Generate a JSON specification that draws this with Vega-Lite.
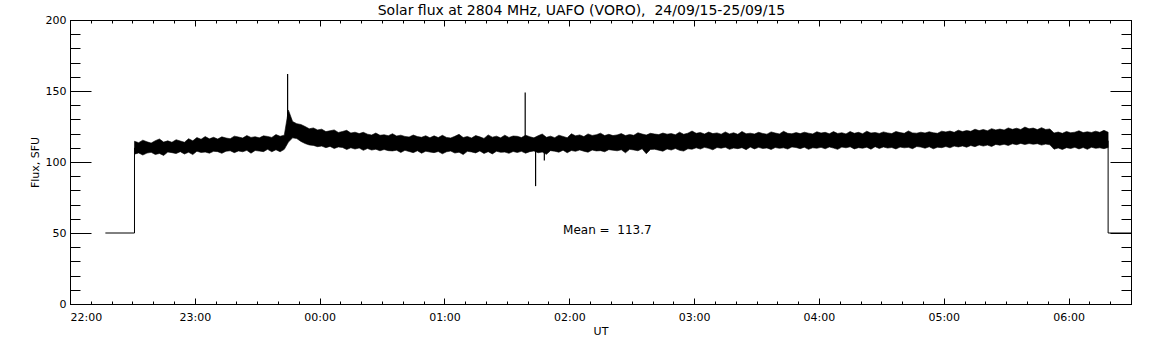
{
  "$schema": "https://vega.github.io/schema/vega-lite/v6.json",
  "autosize": "none",
  "width": 1061,
  "height": 284,
  "padding": {"left": 70, "top": 20, "right": 21, "bottom": 41},
  "background": "white",
  "title": {"text": "Solar flux at 2804 MHz, UAFO (VORO), \u00a024/09/15-25/09/15", "font": "DejaVu Sans", "fontSize": 14, "fontWeight": "normal", "color": "black", "anchor": "middle", "frame": "group", "dx": -19, "offset": -4},
  "config": {
    "view": {"stroke": "black", "strokeWidth": 1},
    "axis": {"labelFont": "DejaVu Sans", "labelFontSize": 11, "labelColor": "black", "titleFont": "DejaVu Sans", "titleFontSize": 11, "titleFontWeight": "normal", "titleColor": "black", "domainColor": "black", "tickColor": "black", "grid": false}
  },
  "datasets": {
    "band": [
      {"t":"2015-09-24T22:31","v":105.5,"v2":114.6},{"t":"2015-09-24T22:33","v":106.4,"v2":113.6},{"t":"2015-09-24T22:35","v":104.9,"v2":115.4},{"t":"2015-09-24T22:37","v":106.3,"v2":114.2},{"t":"2015-09-24T22:39","v":106.8,"v2":113.3},{"t":"2015-09-24T22:41","v":105.3,"v2":115.0},{"t":"2015-09-24T22:43","v":106.0,"v2":116.2},{"t":"2015-09-24T22:45","v":104.6,"v2":114.0},{"t":"2015-09-24T22:47","v":107.0,"v2":114.9},{"t":"2015-09-24T22:49","v":106.6,"v2":113.9},{"t":"2015-09-24T22:51","v":105.9,"v2":115.7},{"t":"2015-09-24T22:53","v":107.3,"v2":114.8},{"t":"2015-09-24T22:55","v":105.6,"v2":113.9},{"t":"2015-09-24T22:57","v":106.9,"v2":116.4},{"t":"2015-09-24T22:59","v":105.2,"v2":114.9},
      {"t":"2015-09-24T23:01","v":107.6,"v2":117.2},{"t":"2015-09-24T23:03","v":106.7,"v2":116.0},{"t":"2015-09-24T23:05","v":107.0,"v2":117.9},{"t":"2015-09-24T23:07","v":106.2,"v2":116.3},{"t":"2015-09-24T23:09","v":107.5,"v2":117.4},{"t":"2015-09-24T23:11","v":107.3,"v2":116.2},{"t":"2015-09-24T23:13","v":106.1,"v2":117.7},{"t":"2015-09-24T23:15","v":107.6,"v2":116.9},{"t":"2015-09-24T23:17","v":107.9,"v2":116.4},{"t":"2015-09-24T23:19","v":106.6,"v2":118.2},{"t":"2015-09-24T23:21","v":107.8,"v2":117.6},{"t":"2015-09-24T23:23","v":107.2,"v2":116.9},{"t":"2015-09-24T23:25","v":108.2,"v2":118.6},{"t":"2015-09-24T23:27","v":106.2,"v2":117.3},{"t":"2015-09-24T23:29","v":108.1,"v2":117.8},{"t":"2015-09-24T23:31","v":107.7,"v2":117.0},{"t":"2015-09-24T23:33","v":107.3,"v2":118.4},{"t":"2015-09-24T23:35","v":108.9,"v2":118.0},{"t":"2015-09-24T23:37","v":107.2,"v2":117.3},{"t":"2015-09-24T23:39","v":108.6,"v2":119.3},{"t":"2015-09-24T23:41","v":107.2,"v2":118.1},{"t":"2015-09-24T23:43","v":108.9,"v2":118.9},
      {"t":"2015-09-24T23:45","v":114.0,"v2":136.5},{"t":"2015-09-24T23:47","v":117.0,"v2":128.5},{"t":"2015-09-24T23:49","v":116.5,"v2":127.0},{"t":"2015-09-24T23:51","v":114.5,"v2":126.4},{"t":"2015-09-24T23:53","v":113.0,"v2":125.0},{"t":"2015-09-24T23:55","v":112.0,"v2":123.4},{"t":"2015-09-24T23:57","v":111.7,"v2":124.0},{"t":"2015-09-24T23:59","v":110.8,"v2":122.6},
      {"t":"2015-09-25T00:01","v":111.2,"v2":123.1},{"t":"2015-09-25T00:03","v":110.1,"v2":121.4},{"t":"2015-09-25T00:05","v":111.0,"v2":122.0},{"t":"2015-09-25T00:07","v":109.5,"v2":122.6},{"t":"2015-09-25T00:09","v":110.6,"v2":120.8},{"t":"2015-09-25T00:11","v":110.2,"v2":121.5},{"t":"2015-09-25T00:13","v":108.8,"v2":122.3},{"t":"2015-09-25T00:15","v":110.0,"v2":120.4},{"t":"2015-09-25T00:17","v":109.1,"v2":121.0},{"t":"2015-09-25T00:19","v":109.9,"v2":120.0},{"t":"2015-09-25T00:21","v":108.2,"v2":120.9},{"t":"2015-09-25T00:23","v":109.5,"v2":119.6},{"t":"2015-09-25T00:25","v":108.4,"v2":119.0},{"t":"2015-09-25T00:27","v":109.0,"v2":120.4},{"t":"2015-09-25T00:29","v":107.9,"v2":118.8},{"t":"2015-09-25T00:31","v":108.8,"v2":119.2},{"t":"2015-09-25T00:33","v":108.0,"v2":118.5},{"t":"2015-09-25T00:35","v":107.8,"v2":119.9},{"t":"2015-09-25T00:37","v":108.3,"v2":118.3},{"t":"2015-09-25T00:39","v":106.7,"v2":118.9},{"t":"2015-09-25T00:41","v":108.2,"v2":118.0},{"t":"2015-09-25T00:43","v":107.4,"v2":117.6},{"t":"2015-09-25T00:45","v":106.6,"v2":119.0},{"t":"2015-09-25T00:47","v":107.9,"v2":117.9},{"t":"2015-09-25T00:49","v":106.2,"v2":117.4},{"t":"2015-09-25T00:51","v":107.6,"v2":118.5},{"t":"2015-09-25T00:53","v":107.0,"v2":117.1},
      {"t":"2015-09-25T00:55","v":106.6,"v2":118.4},{"t":"2015-09-25T00:57","v":107.4,"v2":117.2},{"t":"2015-09-25T00:59","v":105.8,"v2":118.8},{"t":"2015-09-25T01:01","v":107.2,"v2":117.3},{"t":"2015-09-25T01:03","v":107.7,"v2":116.9},{"t":"2015-09-25T01:05","v":106.3,"v2":118.1},{"t":"2015-09-25T01:07","v":106.9,"v2":119.5},{"t":"2015-09-25T01:09","v":105.2,"v2":117.2},{"t":"2015-09-25T01:11","v":107.5,"v2":118.0},{"t":"2015-09-25T01:13","v":107.1,"v2":116.9},{"t":"2015-09-25T01:15","v":106.4,"v2":118.6},{"t":"2015-09-25T01:17","v":107.8,"v2":117.7},{"t":"2015-09-25T01:19","v":106.0,"v2":116.6},{"t":"2015-09-25T01:21","v":107.3,"v2":119.1},{"t":"2015-09-25T01:23","v":105.7,"v2":117.5},{"t":"2015-09-25T01:25","v":107.6,"v2":118.2},{"t":"2015-09-25T01:27","v":106.8,"v2":117.0},{"t":"2015-09-25T01:29","v":107.0,"v2":118.9},{"t":"2015-09-25T01:31","v":106.1,"v2":117.3},{"t":"2015-09-25T01:33","v":107.4,"v2":118.3},{"t":"2015-09-25T01:35","v":106.7,"v2":118.1},{"t":"2015-09-25T01:37","v":107.5,"v2":117.2},{"t":"2015-09-25T01:39","v":106.2,"v2":118.9},{"t":"2015-09-25T01:41","v":107.3,"v2":117.8},{"t":"2015-09-25T01:43","v":107.8,"v2":117.0},{"t":"2015-09-25T01:45","v":106.5,"v2":118.5},{"t":"2015-09-25T01:47","v":107.0,"v2":119.7},{"t":"2015-09-25T01:49","v":105.4,"v2":117.4},{"t":"2015-09-25T01:51","v":108.0,"v2":118.2},{"t":"2015-09-25T01:53","v":107.6,"v2":117.1},{"t":"2015-09-25T01:55","v":106.9,"v2":118.9},{"t":"2015-09-25T01:57","v":108.3,"v2":118.0},{"t":"2015-09-25T01:59","v":106.5,"v2":117.1},
      {"t":"2015-09-25T02:01","v":108.1,"v2":119.9},{"t":"2015-09-25T02:03","v":107.5,"v2":118.4},{"t":"2015-09-25T02:05","v":108.5,"v2":119.1},{"t":"2015-09-25T02:07","v":107.6,"v2":117.9},{"t":"2015-09-25T02:09","v":106.9,"v2":119.8},{"t":"2015-09-25T02:11","v":108.4,"v2":118.7},{"t":"2015-09-25T02:13","v":107.8,"v2":119.2},{"t":"2015-09-25T02:15","v":108.0,"v2":120.3},{"t":"2015-09-25T02:17","v":107.2,"v2":118.6},{"t":"2015-09-25T02:19","v":108.7,"v2":119.5},{"t":"2015-09-25T02:21","v":108.3,"v2":118.6},{"t":"2015-09-25T02:23","v":107.9,"v2":119.1},{"t":"2015-09-25T02:25","v":108.6,"v2":120.0},{"t":"2015-09-25T02:27","v":106.5,"v2":118.6},{"t":"2015-09-25T02:29","v":108.9,"v2":119.4},{"t":"2015-09-25T02:31","v":108.5,"v2":118.8},{"t":"2015-09-25T02:33","v":107.9,"v2":120.6},{"t":"2015-09-25T02:35","v":109.3,"v2":119.7},{"t":"2015-09-25T02:37","v":105.8,"v2":119.0},{"t":"2015-09-25T02:39","v":108.8,"v2":120.2},{"t":"2015-09-25T02:41","v":109.0,"v2":119.7},{"t":"2015-09-25T02:43","v":108.3,"v2":119.3},{"t":"2015-09-25T02:45","v":107.6,"v2":120.4},{"t":"2015-09-25T02:47","v":109.2,"v2":119.6},{"t":"2015-09-25T02:49","v":108.4,"v2":120.0},{"t":"2015-09-25T02:51","v":109.5,"v2":119.2},{"t":"2015-09-25T02:53","v":108.2,"v2":121.0},{"t":"2015-09-25T02:55","v":107.7,"v2":119.5},{"t":"2015-09-25T02:57","v":109.3,"v2":120.3},{"t":"2015-09-25T02:59","v":109.0,"v2":121.8},
      {"t":"2015-09-25T03:01","v":110.0,"v2":120.2},{"t":"2015-09-25T03:03","v":109.1,"v2":120.8},{"t":"2015-09-25T03:05","v":110.3,"v2":119.7},{"t":"2015-09-25T03:07","v":109.6,"v2":121.1},{"t":"2015-09-25T03:09","v":108.6,"v2":120.0},{"t":"2015-09-25T03:11","v":110.2,"v2":120.5},{"t":"2015-09-25T03:13","v":109.7,"v2":119.6},{"t":"2015-09-25T03:15","v":110.4,"v2":121.2},{"t":"2015-09-25T03:17","v":108.9,"v2":119.8},{"t":"2015-09-25T03:19","v":109.8,"v2":120.6},{"t":"2015-09-25T03:21","v":109.4,"v2":119.5},{"t":"2015-09-25T03:23","v":110.1,"v2":121.5},{"t":"2015-09-25T03:25","v":108.7,"v2":119.9},{"t":"2015-09-25T03:27","v":110.5,"v2":120.3},{"t":"2015-09-25T03:29","v":109.2,"v2":119.7},{"t":"2015-09-25T03:31","v":110.3,"v2":120.9},{"t":"2015-09-25T03:33","v":109.5,"v2":120.1},{"t":"2015-09-25T03:35","v":109.9,"v2":119.6},{"t":"2015-09-25T03:37","v":108.8,"v2":121.2},{"t":"2015-09-25T03:39","v":110.2,"v2":120.4},{"t":"2015-09-25T03:41","v":109.6,"v2":119.8},{"t":"2015-09-25T03:43","v":110.0,"v2":121.6},{"t":"2015-09-25T03:45","v":109.1,"v2":120.2},{"t":"2015-09-25T03:47","v":110.6,"v2":119.9},{"t":"2015-09-25T03:49","v":110.2,"v2":120.7},{"t":"2015-09-25T03:51","v":109.4,"v2":120.0},{"t":"2015-09-25T03:53","v":110.4,"v2":121.0},{"t":"2015-09-25T03:55","v":108.9,"v2":120.3},{"t":"2015-09-25T03:57","v":110.0,"v2":119.8},{"t":"2015-09-25T03:59","v":109.7,"v2":121.3},
      {"t":"2015-09-25T04:01","v":110.3,"v2":120.4},{"t":"2015-09-25T04:03","v":109.3,"v2":120.9},{"t":"2015-09-25T04:05","v":110.6,"v2":119.9},{"t":"2015-09-25T04:07","v":109.8,"v2":121.4},{"t":"2015-09-25T04:09","v":108.9,"v2":120.1},{"t":"2015-09-25T04:11","v":110.5,"v2":120.6},{"t":"2015-09-25T04:13","v":110.0,"v2":119.8},{"t":"2015-09-25T04:15","v":110.7,"v2":121.5},{"t":"2015-09-25T04:17","v":109.2,"v2":120.2},{"t":"2015-09-25T04:19","v":110.1,"v2":120.9},{"t":"2015-09-25T04:21","v":109.7,"v2":119.9},{"t":"2015-09-25T04:23","v":110.4,"v2":121.7},{"t":"2015-09-25T04:25","v":109.0,"v2":120.4},{"t":"2015-09-25T04:27","v":110.8,"v2":120.8},{"t":"2015-09-25T04:29","v":109.5,"v2":120.1},{"t":"2015-09-25T04:31","v":110.6,"v2":121.2},{"t":"2015-09-25T04:33","v":109.8,"v2":120.5},{"t":"2015-09-25T04:35","v":110.2,"v2":120.0},{"t":"2015-09-25T04:37","v":109.2,"v2":121.5},{"t":"2015-09-25T04:39","v":110.5,"v2":120.7},{"t":"2015-09-25T04:41","v":110.0,"v2":120.2},{"t":"2015-09-25T04:43","v":110.3,"v2":121.9},{"t":"2015-09-25T04:45","v":109.4,"v2":120.5},{"t":"2015-09-25T04:47","v":110.9,"v2":120.3},{"t":"2015-09-25T04:49","v":110.5,"v2":121.0},{"t":"2015-09-25T04:51","v":109.7,"v2":120.4},{"t":"2015-09-25T04:53","v":110.7,"v2":121.3},{"t":"2015-09-25T04:55","v":109.3,"v2":120.6},{"t":"2015-09-25T04:57","v":110.4,"v2":120.2},{"t":"2015-09-25T04:59","v":110.1,"v2":121.7},
      {"t":"2015-09-25T05:01","v":110.9,"v2":121.2},{"t":"2015-09-25T05:03","v":110.0,"v2":121.8},{"t":"2015-09-25T05:05","v":111.2,"v2":120.9},{"t":"2015-09-25T05:07","v":110.6,"v2":122.4},{"t":"2015-09-25T05:09","v":111.3,"v2":121.4},{"t":"2015-09-25T05:11","v":110.4,"v2":122.2},{"t":"2015-09-25T05:13","v":111.6,"v2":121.6},{"t":"2015-09-25T05:15","v":110.8,"v2":123.1},{"t":"2015-09-25T05:17","v":112.0,"v2":122.1},{"t":"2015-09-25T05:19","v":111.2,"v2":122.9},{"t":"2015-09-25T05:21","v":111.9,"v2":122.0},{"t":"2015-09-25T05:23","v":110.9,"v2":123.5},{"t":"2015-09-25T05:25","v":112.4,"v2":122.6},{"t":"2015-09-25T05:27","v":111.8,"v2":123.2},{"t":"2015-09-25T05:29","v":112.5,"v2":122.5},{"t":"2015-09-25T05:31","v":111.6,"v2":124.0},{"t":"2015-09-25T05:33","v":112.8,"v2":123.0},{"t":"2015-09-25T05:35","v":112.2,"v2":123.8},{"t":"2015-09-25T05:37","v":113.1,"v2":122.9},{"t":"2015-09-25T05:39","v":112.3,"v2":124.6},{"t":"2015-09-25T05:41","v":113.0,"v2":123.4},{"t":"2015-09-25T05:43","v":112.5,"v2":123.9},{"t":"2015-09-25T05:45","v":112.9,"v2":122.8},{"t":"2015-09-25T05:47","v":111.9,"v2":124.2},{"t":"2015-09-25T05:49","v":112.6,"v2":122.9},{"t":"2015-09-25T05:51","v":112.1,"v2":123.3},
      {"t":"2015-09-25T05:53","v":109.0,"v2":120.4},{"t":"2015-09-25T05:55","v":109.9,"v2":121.1},{"t":"2015-09-25T05:57","v":108.8,"v2":120.2},{"t":"2015-09-25T05:59","v":110.1,"v2":121.5},{"t":"2015-09-25T06:01","v":109.5,"v2":120.6},{"t":"2015-09-25T06:03","v":110.3,"v2":121.0},{"t":"2015-09-25T06:05","v":109.2,"v2":122.0},{"t":"2015-09-25T06:07","v":110.2,"v2":120.7},{"t":"2015-09-25T06:09","v":108.9,"v2":121.3},{"t":"2015-09-25T06:11","v":110.4,"v2":120.8},{"t":"2015-09-25T06:13","v":109.6,"v2":121.7},{"t":"2015-09-25T06:15","v":110.0,"v2":120.9},{"t":"2015-09-25T06:17","v":109.4,"v2":122.3},{"t":"2015-09-25T06:19","v":110.2,"v2":121.0}
    ],
    "spikes": [
      {"t":"2015-09-24T23:44:36","v":118,"v2":162},
      {"t":"2015-09-25T01:38:48","v":117,"v2":149},
      {"t":"2015-09-25T01:43:48","v":83,"v2":108},
      {"t":"2015-09-25T01:48:00","v":101,"v2":108}
    ],
    "steps": [
      {"t":"2015-09-24T22:17","v":50,"seg":"a","i":1},
      {"t":"2015-09-24T22:31","v":50,"seg":"a","i":2},
      {"t":"2015-09-24T22:31","v":110,"seg":"a","i":3},
      {"t":"2015-09-25T06:19","v":115,"seg":"b","i":1},
      {"t":"2015-09-25T06:19","v":50,"seg":"b","i":2},
      {"t":"2015-09-25T06:30","v":50,"seg":"b","i":3}
    ],
    "note": [
      {"t":"2015-09-25T01:57","v":52,"txt":"Mean = \u00a0113.7"}
    ]
  },
  "layer": [
    {
      "encoding": {
        "x": {"field": "t", "type": "temporal",
          "scale": {"domain": [{"year":2015,"month":9,"date":24,"hours":22,"minutes":0},{"year":2015,"month":9,"date":25,"hours":6,"minutes":30}], "nice": false},
          "axis": {"orient": "bottom", "title": "UT", "titlePadding": 3, "tickSize": -6, "labelPadding": 13, "format": "%H:%M",
            "values": [{"year":2015,"month":9,"date":24,"hours":22},{"year":2015,"month":9,"date":24,"hours":23},{"year":2015,"month":9,"date":25,"hours":0},{"year":2015,"month":9,"date":25,"hours":1},{"year":2015,"month":9,"date":25,"hours":2},{"year":2015,"month":9,"date":25,"hours":3},{"year":2015,"month":9,"date":25,"hours":4},{"year":2015,"month":9,"date":25,"hours":5},{"year":2015,"month":9,"date":25,"hours":6}]}},
        "y": {"field": "v", "type": "quantitative",
          "scale": {"domain": [0, 200], "nice": false, "zero": false},
          "axis": {"orient": "left", "title": "Flux, SFU", "titlePadding": 5, "tickSize": -21, "labelPadding": 25, "values": [0, 50, 100, 150, 200]}}
      },
      "layer": [
        {"data": {"name": "band"}, "mark": {"type": "area", "color": "black", "stroke": "black", "strokeWidth": 0.6, "interpolate": "linear"},
          "encoding": {"y2": {"field": "v2"}}},
        {"data": {"name": "spikes"}, "mark": {"type": "rule", "color": "black", "strokeWidth": 1.2},
          "encoding": {"y2": {"field": "v2"}}},
        {"data": {"name": "steps"}, "mark": {"type": "line", "color": "black", "strokeWidth": 1},
          "encoding": {"detail": {"field": "seg"}, "order": {"field": "i"}}},
        {"data": {"name": "note"}, "mark": {"type": "text", "align": "left", "baseline": "middle", "font": "DejaVu Sans", "fontSize": 12, "color": "black"},
          "encoding": {"text": {"field": "txt"}}}
      ]
    },
    {
      "data": {"name": "steps"},
      "mark": {"type": "point", "opacity": 0},
      "encoding": {
        "x": {"field": "t", "type": "temporal",
          "scale": {"domain": [{"year":2015,"month":9,"date":24,"hours":22,"minutes":0},{"year":2015,"month":9,"date":25,"hours":6,"minutes":30}], "nice": false},
          "axis": {"orient": "bottom", "title": null, "labels": false, "domain": false, "tickSize": -3,
            "values": [{"year":2015,"month":9,"date":24,"hours":22,"minutes":0},{"year":2015,"month":9,"date":24,"hours":22,"minutes":10},{"year":2015,"month":9,"date":24,"hours":22,"minutes":20},{"year":2015,"month":9,"date":24,"hours":22,"minutes":30},{"year":2015,"month":9,"date":24,"hours":22,"minutes":40},{"year":2015,"month":9,"date":24,"hours":22,"minutes":50},{"year":2015,"month":9,"date":24,"hours":23,"minutes":0},{"year":2015,"month":9,"date":24,"hours":23,"minutes":10},{"year":2015,"month":9,"date":24,"hours":23,"minutes":20},{"year":2015,"month":9,"date":24,"hours":23,"minutes":30},{"year":2015,"month":9,"date":24,"hours":23,"minutes":40},{"year":2015,"month":9,"date":24,"hours":23,"minutes":50},{"year":2015,"month":9,"date":25,"hours":0,"minutes":0},{"year":2015,"month":9,"date":25,"hours":0,"minutes":10},{"year":2015,"month":9,"date":25,"hours":0,"minutes":20},{"year":2015,"month":9,"date":25,"hours":0,"minutes":30},{"year":2015,"month":9,"date":25,"hours":0,"minutes":40},{"year":2015,"month":9,"date":25,"hours":0,"minutes":50},{"year":2015,"month":9,"date":25,"hours":1,"minutes":0},{"year":2015,"month":9,"date":25,"hours":1,"minutes":10},{"year":2015,"month":9,"date":25,"hours":1,"minutes":20},{"year":2015,"month":9,"date":25,"hours":1,"minutes":30},{"year":2015,"month":9,"date":25,"hours":1,"minutes":40},{"year":2015,"month":9,"date":25,"hours":1,"minutes":50},{"year":2015,"month":9,"date":25,"hours":2,"minutes":0},{"year":2015,"month":9,"date":25,"hours":2,"minutes":10},{"year":2015,"month":9,"date":25,"hours":2,"minutes":20},{"year":2015,"month":9,"date":25,"hours":2,"minutes":30},{"year":2015,"month":9,"date":25,"hours":2,"minutes":40},{"year":2015,"month":9,"date":25,"hours":2,"minutes":50},{"year":2015,"month":9,"date":25,"hours":3,"minutes":0},{"year":2015,"month":9,"date":25,"hours":3,"minutes":10},{"year":2015,"month":9,"date":25,"hours":3,"minutes":20},{"year":2015,"month":9,"date":25,"hours":3,"minutes":30},{"year":2015,"month":9,"date":25,"hours":3,"minutes":40},{"year":2015,"month":9,"date":25,"hours":3,"minutes":50},{"year":2015,"month":9,"date":25,"hours":4,"minutes":0},{"year":2015,"month":9,"date":25,"hours":4,"minutes":10},{"year":2015,"month":9,"date":25,"hours":4,"minutes":20},{"year":2015,"month":9,"date":25,"hours":4,"minutes":30},{"year":2015,"month":9,"date":25,"hours":4,"minutes":40},{"year":2015,"month":9,"date":25,"hours":4,"minutes":50},{"year":2015,"month":9,"date":25,"hours":5,"minutes":0},{"year":2015,"month":9,"date":25,"hours":5,"minutes":10},{"year":2015,"month":9,"date":25,"hours":5,"minutes":20},{"year":2015,"month":9,"date":25,"hours":5,"minutes":30},{"year":2015,"month":9,"date":25,"hours":5,"minutes":40},{"year":2015,"month":9,"date":25,"hours":5,"minutes":50},{"year":2015,"month":9,"date":25,"hours":6,"minutes":0},{"year":2015,"month":9,"date":25,"hours":6,"minutes":10},{"year":2015,"month":9,"date":25,"hours":6,"minutes":20},{"year":2015,"month":9,"date":25,"hours":6,"minutes":30}]}},
        "y": {"field": "v", "type": "quantitative",
          "scale": {"domain": [0, 200], "nice": false, "zero": false},
          "axis": {"orient": "left", "title": null, "labels": false, "domain": false, "tickSize": -10,
            "values": [0,10,20,30,40,50,60,70,80,90,100,110,120,130,140,150,160,170,180,190,200]}}
      }
    },
    {
      "data": {"name": "steps"},
      "mark": {"type": "point", "opacity": 0},
      "encoding": {
        "x": {"field": "t", "type": "temporal",
          "scale": {"domain": [{"year":2015,"month":9,"date":24,"hours":22,"minutes":0},{"year":2015,"month":9,"date":25,"hours":6,"minutes":30}], "nice": false},
          "axis": {"orient": "top", "title": null, "labels": false, "tickSize": -6,
            "values": [{"year":2015,"month":9,"date":24,"hours":22},{"year":2015,"month":9,"date":24,"hours":23},{"year":2015,"month":9,"date":25,"hours":0},{"year":2015,"month":9,"date":25,"hours":1},{"year":2015,"month":9,"date":25,"hours":2},{"year":2015,"month":9,"date":25,"hours":3},{"year":2015,"month":9,"date":25,"hours":4},{"year":2015,"month":9,"date":25,"hours":5},{"year":2015,"month":9,"date":25,"hours":6}]}},
        "y": {"field": "v", "type": "quantitative",
          "scale": {"domain": [0, 200], "nice": false, "zero": false},
          "axis": {"orient": "right", "title": null, "labels": false, "tickSize": -21, "values": [0, 50, 100, 150, 200]}}
      }
    },
    {
      "data": {"name": "steps"},
      "mark": {"type": "point", "opacity": 0},
      "encoding": {
        "x": {"field": "t", "type": "temporal",
          "scale": {"domain": [{"year":2015,"month":9,"date":24,"hours":22,"minutes":0},{"year":2015,"month":9,"date":25,"hours":6,"minutes":30}], "nice": false},
          "axis": {"orient": "top", "title": null, "labels": false, "domain": false, "tickSize": -3,
            "values": [{"year":2015,"month":9,"date":24,"hours":22,"minutes":0},{"year":2015,"month":9,"date":24,"hours":22,"minutes":10},{"year":2015,"month":9,"date":24,"hours":22,"minutes":20},{"year":2015,"month":9,"date":24,"hours":22,"minutes":30},{"year":2015,"month":9,"date":24,"hours":22,"minutes":40},{"year":2015,"month":9,"date":24,"hours":22,"minutes":50},{"year":2015,"month":9,"date":24,"hours":23,"minutes":0},{"year":2015,"month":9,"date":24,"hours":23,"minutes":10},{"year":2015,"month":9,"date":24,"hours":23,"minutes":20},{"year":2015,"month":9,"date":24,"hours":23,"minutes":30},{"year":2015,"month":9,"date":24,"hours":23,"minutes":40},{"year":2015,"month":9,"date":24,"hours":23,"minutes":50},{"year":2015,"month":9,"date":25,"hours":0,"minutes":0},{"year":2015,"month":9,"date":25,"hours":0,"minutes":10},{"year":2015,"month":9,"date":25,"hours":0,"minutes":20},{"year":2015,"month":9,"date":25,"hours":0,"minutes":30},{"year":2015,"month":9,"date":25,"hours":0,"minutes":40},{"year":2015,"month":9,"date":25,"hours":0,"minutes":50},{"year":2015,"month":9,"date":25,"hours":1,"minutes":0},{"year":2015,"month":9,"date":25,"hours":1,"minutes":10},{"year":2015,"month":9,"date":25,"hours":1,"minutes":20},{"year":2015,"month":9,"date":25,"hours":1,"minutes":30},{"year":2015,"month":9,"date":25,"hours":1,"minutes":40},{"year":2015,"month":9,"date":25,"hours":1,"minutes":50},{"year":2015,"month":9,"date":25,"hours":2,"minutes":0},{"year":2015,"month":9,"date":25,"hours":2,"minutes":10},{"year":2015,"month":9,"date":25,"hours":2,"minutes":20},{"year":2015,"month":9,"date":25,"hours":2,"minutes":30},{"year":2015,"month":9,"date":25,"hours":2,"minutes":40},{"year":2015,"month":9,"date":25,"hours":2,"minutes":50},{"year":2015,"month":9,"date":25,"hours":3,"minutes":0},{"year":2015,"month":9,"date":25,"hours":3,"minutes":10},{"year":2015,"month":9,"date":25,"hours":3,"minutes":20},{"year":2015,"month":9,"date":25,"hours":3,"minutes":30},{"year":2015,"month":9,"date":25,"hours":3,"minutes":40},{"year":2015,"month":9,"date":25,"hours":3,"minutes":50},{"year":2015,"month":9,"date":25,"hours":4,"minutes":0},{"year":2015,"month":9,"date":25,"hours":4,"minutes":10},{"year":2015,"month":9,"date":25,"hours":4,"minutes":20},{"year":2015,"month":9,"date":25,"hours":4,"minutes":30},{"year":2015,"month":9,"date":25,"hours":4,"minutes":40},{"year":2015,"month":9,"date":25,"hours":4,"minutes":50},{"year":2015,"month":9,"date":25,"hours":5,"minutes":0},{"year":2015,"month":9,"date":25,"hours":5,"minutes":10},{"year":2015,"month":9,"date":25,"hours":5,"minutes":20},{"year":2015,"month":9,"date":25,"hours":5,"minutes":30},{"year":2015,"month":9,"date":25,"hours":5,"minutes":40},{"year":2015,"month":9,"date":25,"hours":5,"minutes":50},{"year":2015,"month":9,"date":25,"hours":6,"minutes":0},{"year":2015,"month":9,"date":25,"hours":6,"minutes":10},{"year":2015,"month":9,"date":25,"hours":6,"minutes":20},{"year":2015,"month":9,"date":25,"hours":6,"minutes":30}]}},
        "y": {"field": "v", "type": "quantitative",
          "scale": {"domain": [0, 200], "nice": false, "zero": false},
          "axis": {"orient": "right", "title": null, "labels": false, "domain": false, "tickSize": -10,
            "values": [0,10,20,30,40,50,60,70,80,90,100,110,120,130,140,150,160,170,180,190,200]}}
      }
    }
  ],
  "resolve": {"scale": {"x": "independent", "y": "independent"}}
}
